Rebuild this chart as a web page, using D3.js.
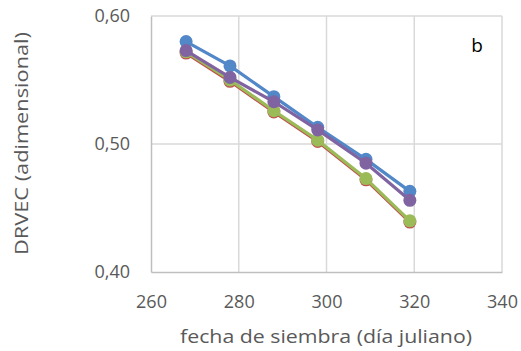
<!DOCTYPE html>
<html>
<head>
<meta charset="utf-8">
<script src="https://cdn.jsdelivr.net/npm/d3@7"></script>
<style>
  html, body { margin: 0; padding: 0; background: #fff; }
  svg { display: block; font-family: "Open Sans", Lato, sans-serif; }
</style>
</head>
<body>
<svg id="chart" width="521" height="351"></svg>
<script>
// Sowing date (Julian day) and DRVEC per series
const sowingDays = [268, 278, 288, 298, 309, 319];
const seriesBlue   = [0.580, 0.561, 0.537, 0.513, 0.488, 0.463];
const seriesRed    = [0.571, 0.549, 0.525, 0.502, 0.472, 0.439];
const seriesGreen  = [0.572, 0.550, 0.526, 0.503, 0.473, 0.440];
const seriesPurple = [0.573, 0.552, 0.533, 0.511, 0.485, 0.456];
const xTicks = [260, 280, 300, 320, 340];
const yTicks = [0.40, 0.50, 0.60];

const series = [
  { values: seriesBlue,   color: "#5287C8" },
  { values: seriesRed,    color: "#C0504D" },
  { values: seriesGreen,  color: "#9BBB59" },
  { values: seriesPurple, color: "#8064A2" }
];

const svg = d3.select("#chart");
const m = { left: 151, right: 502, top: 16, bottom: 272 };
const font = "'Open Sans', Lato, sans-serif";

const x = d3.scaleLinear().domain([260, 340]).range([m.left, m.right]);
const y = d3.scaleLinear().domain([0.40, 0.60]).range([m.bottom, m.top]);

// Gridlines
svg.append("g").selectAll("line").data(xTicks.slice(1)).join("line")
  .attr("x1", d => x(d)).attr("x2", d => x(d))
  .attr("y1", m.top).attr("y2", m.bottom)
  .attr("stroke", "#D9D9D9").attr("stroke-width", 1.5);
svg.append("g").selectAll("line").data(yTicks.slice(1)).join("line")
  .attr("x1", m.left).attr("x2", m.right)
  .attr("y1", d => y(d)).attr("y2", d => y(d))
  .attr("stroke", "#D9D9D9").attr("stroke-width", 1.5);

// Axes
const xAxis = svg.append("g")
  .attr("transform", `translate(0,${m.bottom})`)
  .call(d3.axisBottom(x).tickValues(xTicks).tickSize(0).tickPadding(23));
const yAxis = svg.append("g")
  .attr("transform", `translate(${m.left},0)`)
  .call(d3.axisLeft(y).tickValues(yTicks).tickSize(0).tickPadding(21)
    .tickFormat(d => d3.format(".2f")(d).replace(".", ",")));
[xAxis, yAxis].forEach(a => {
  a.select(".domain").attr("stroke", "#BFBFBF").attr("stroke-width", 1.5);
  a.selectAll("text").attr("fill", "#595959").style("font-size", "18px")
    .style("font-family", font);
});

// Lines and markers
const line = d3.line().x((d, i) => x(sowingDays[i])).y(d => y(d));
series.forEach(s => {
  const g = svg.append("g");
  g.append("path").datum(s.values)
    .attr("d", line).attr("fill", "none")
    .attr("stroke", s.color).attr("stroke-width", 3.2).attr("stroke-linejoin", "round");
  g.selectAll("circle").data(s.values).join("circle")
    .attr("cx", (d, i) => x(sowingDays[i])).attr("cy", d => y(d))
    .attr("r", 6.5).attr("fill", s.color);
});

// Axis titles
svg.append("text")
  .attr("x", 180).attr("y", 343)
  .attr("textLength", 292).attr("lengthAdjust", "spacingAndGlyphs")
  .attr("fill", "#595959")
  .style("font-size", "19px").style("font-family", font)
  .text("fecha de siembra (día juliano)");
svg.append("text")
  .attr("transform", "translate(28,255) rotate(-90)")
  .attr("textLength", 223).attr("lengthAdjust", "spacingAndGlyphs")
  .attr("fill", "#595959")
  .style("font-size", "19px").style("font-family", font)
  .text("DRVEC (adimensional)");

// Panel letter
svg.append("text")
  .attr("x", 477).attr("y", 52).attr("text-anchor", "middle")
  .attr("fill", "#000").style("font-size", "19px").style("font-family", font)
  .text("b");
</script>
</body>
</html>
